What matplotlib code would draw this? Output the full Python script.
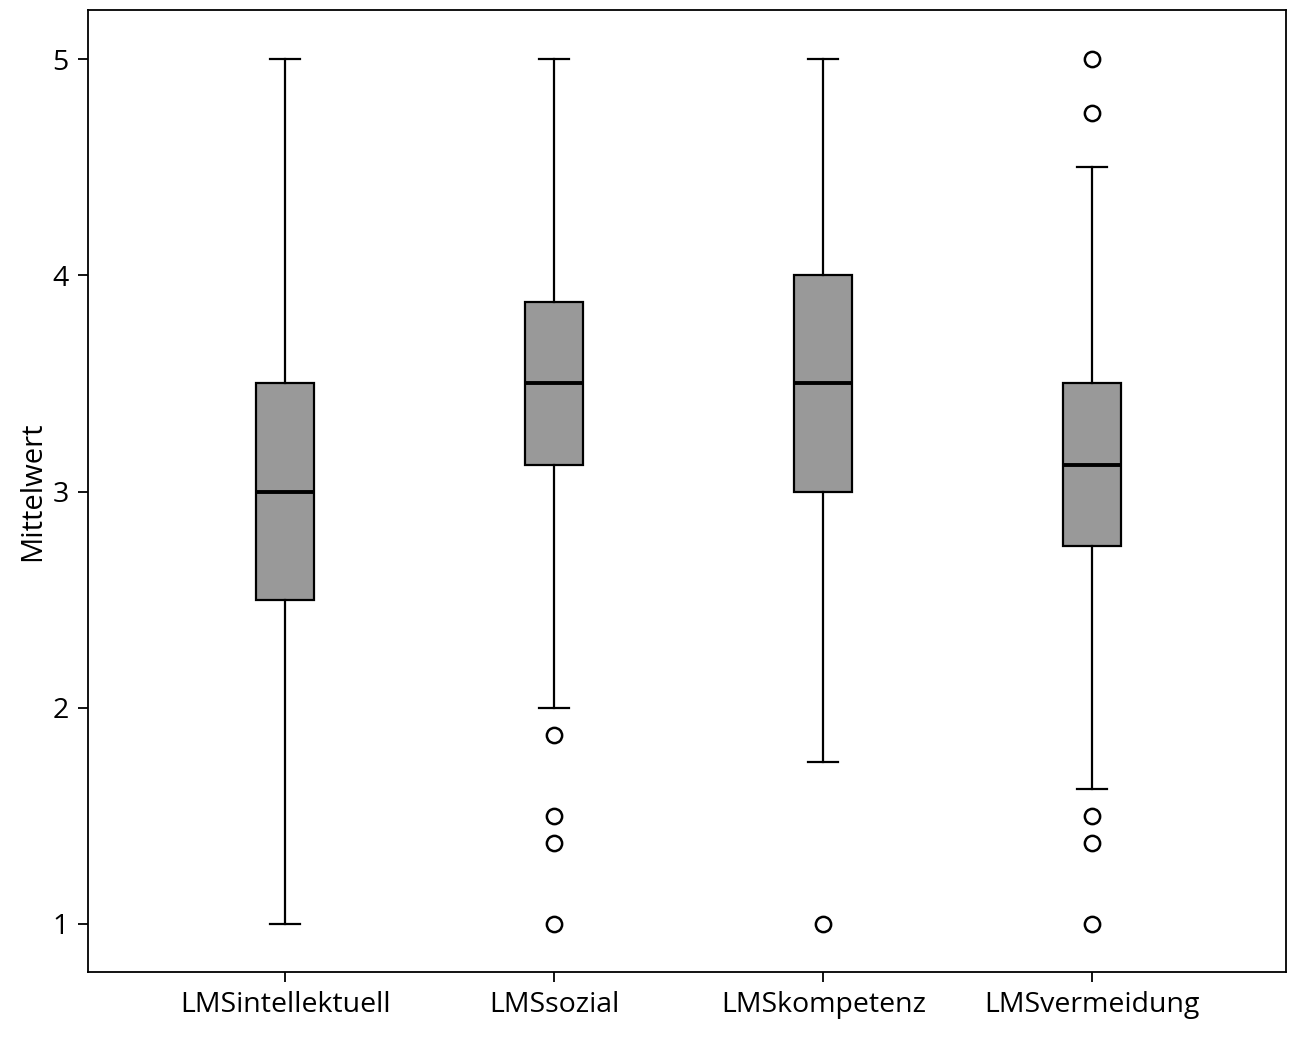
import matplotlib.pyplot as plt

plt.rcParams["font.family"] = ["Open Sans", "DejaVu Sans"]

# Kennwerte je Skala
labels = ["LMSintellektuell", "LMSsozial", "LMSkompetenz", "LMSvermeidung"]
q1 = [2.5, 3.125, 3.0, 2.75]
median = [3.0, 3.5, 3.5, 3.125]
q3 = [3.5, 3.875, 4.0, 3.5]
whislo = [1.0, 2.0, 1.75, 1.625]
whishi = [5.0, 5.0, 5.0, 4.5]
fliers = [
    [],
    [1.875, 1.5, 1.375, 1.0],
    [1.0],
    [5.0, 4.75, 1.5, 1.375, 1.0],
]
yticks = [1, 2, 3, 4, 5]

stats = []
for i in range(len(labels)):
    stats.append({
        "label": labels[i],
        "q1": q1[i],
        "med": median[i],
        "q3": q3[i],
        "whislo": whislo[i],
        "whishi": whishi[i],
        "fliers": fliers[i],
    })

fig = plt.figure(figsize=(12.99, 10.40), dpi=100)
ax = fig.add_axes([88 / 1299, 68 / 1040, 1198 / 1299, 962 / 1040])

ax.bxp(
    stats,
    positions=[1, 2, 3, 4],
    widths=0.216,
    patch_artist=True,
    boxprops=dict(facecolor="#999999", edgecolor="black", linewidth=1.6),
    medianprops=dict(color="black", linewidth=2.8),
    whiskerprops=dict(color="black", linewidth=1.6),
    capprops=dict(color="black", linewidth=1.6),
    capwidths=0.112,
    flierprops=dict(marker="o", markersize=11, markerfacecolor="white",
                    markeredgecolor="black", markeredgewidth=1.8),
)

ax.set_xlim(0.267, 4.72)
ax.set_ylim(0.778, 5.227)
ax.set_yticks(yticks)
ax.set_yticklabels([str(t) for t in yticks])
ax.set_xticks([1, 2, 3, 4])
ax.set_xticklabels(labels)
ax.set_ylabel("Mittelwert", fontsize=21, labelpad=4)

ax.tick_params(axis="both", labelsize=20.5, length=7, width=1.3, direction="out", pad=7)
for s in ax.spines.values():
    s.set_linewidth(1.3)

plt.savefig("out.png", dpi=100)
